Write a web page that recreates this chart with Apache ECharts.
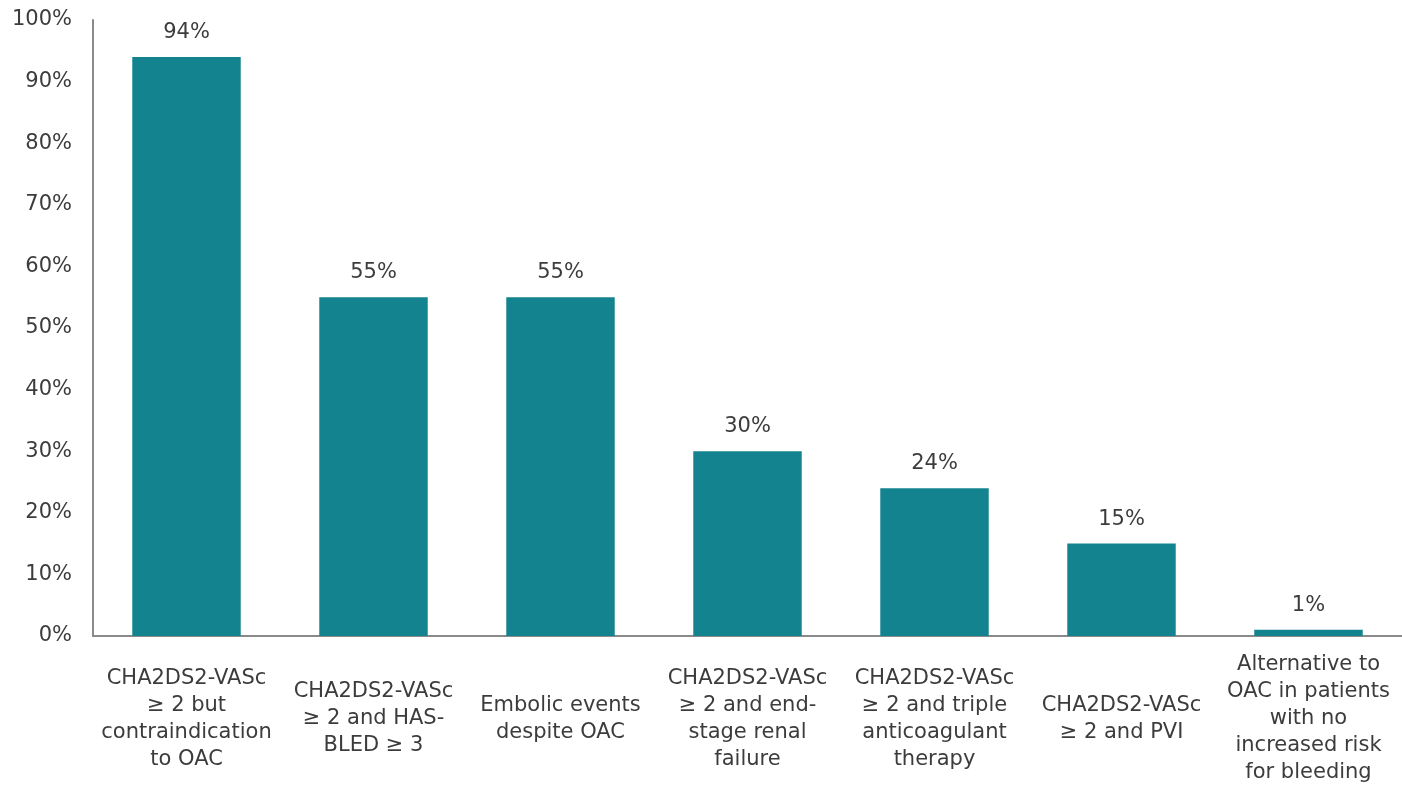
<!DOCTYPE html>
<html>
<head>
<meta charset="utf-8">
<script src="https://cdn.jsdelivr.net/npm/echarts@6/dist/echarts.min.js"></script>
<style>
  html, body { margin: 0; padding: 0; background: #fff; }
  #chart { width: 1402px; height: 787px; }
</style>
</head>
<body>
<div id="chart"></div>
<script>
const categories = [
  "CHA2DS2-VASc\n≥ 2 but\ncontraindication\nto OAC",
  "CHA2DS2-VASc\n≥ 2 and HAS-\nBLED ≥ 3",
  "Embolic events\ndespite OAC",
  "CHA2DS2-VASc\n≥ 2 and end-\nstage renal\nfailure",
  "CHA2DS2-VASc\n≥ 2 and triple\nanticoagulant\ntherapy",
  "CHA2DS2-VASc\n≥ 2 and PVI",
  "Alternative to\nOAC in patients\nwith no\nincreased risk\nfor bleeding"
];
const values = [94, 55, 55, 30, 24, 15, 1];

const font = "DejaVu Sans";
const textColor = "#3c3c3c";

const chart = echarts.init(document.getElementById("chart"));
chart.setOption({
  animation: false,
  grid: { left: 93, right: -6, top: 20, bottom: 151 },
  xAxis: {
    type: "category",
    data: categories,
    axisLine: { lineStyle: { color: "#8a8a8a", width: 2 } },
    axisTick: { show: false },
    axisLabel: {
      interval: 0,
      margin: 83,
      verticalAlign: "middle",
      fontFamily: font,
      fontSize: 21,
      lineHeight: 27,
      color: textColor
    }
  },
  yAxis: {
    type: "value",
    min: 0,
    max: 100,
    interval: 10,
    axisLine: { show: true, lineStyle: { color: "#8a8a8a", width: 2 } },
    axisTick: { show: false },
    splitLine: { show: false },
    axisLabel: {
      margin: 21,
      fontFamily: font,
      fontSize: 21,
      color: textColor,
      formatter: "{value}%"
    }
  },
  series: [{
    type: "bar",
    data: values,
    barWidth: "58%",
    itemStyle: { color: "#12838f" },
    label: {
      show: true,
      position: "top",
      distance: 14,
      fontFamily: font,
      fontSize: 21,
      color: textColor,
      formatter: "{c}%"
    }
  }]
});
</script>
</body>
</html>
